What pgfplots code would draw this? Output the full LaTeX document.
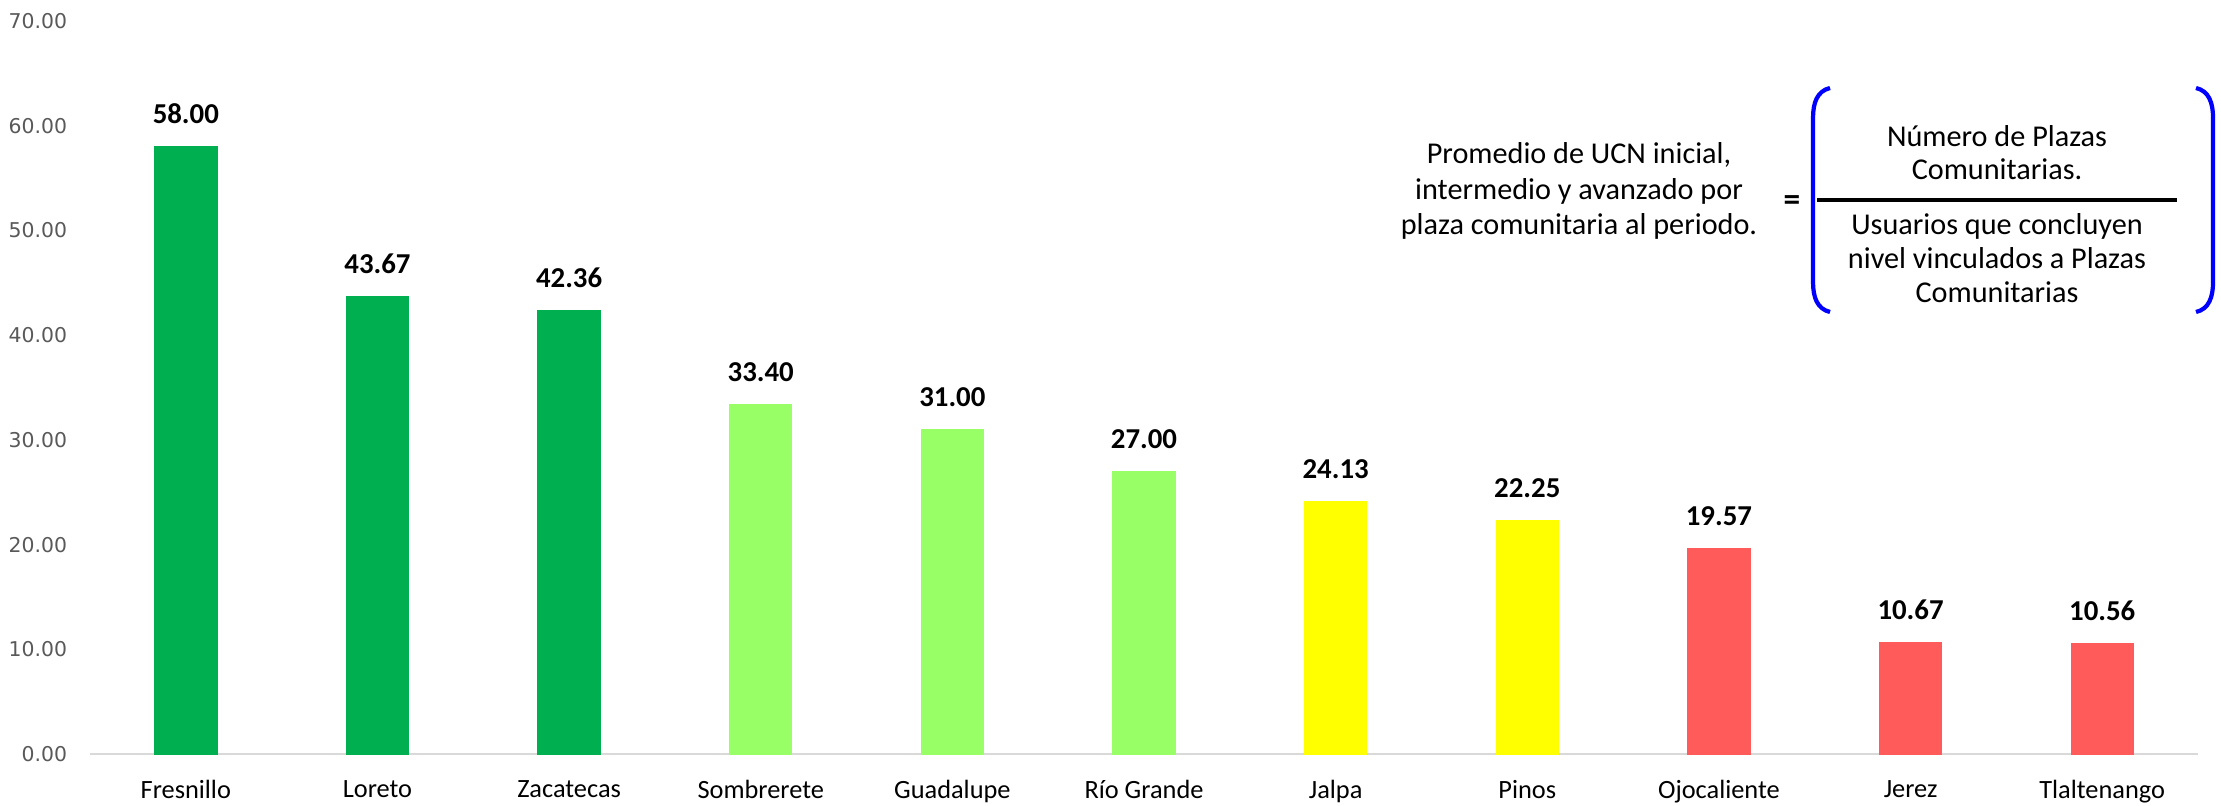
\documentclass[border=0pt]{standalone}
\usepackage{fontspec}
\setmainfont{Carlito}
\newfontfamily\tickfont{DejaVu Sans}
\usepackage{pgfplots}
\pgfplotsset{compat=1.18}
\definecolor{dgreen}{RGB}{0,176,80}
\definecolor{lgreen}{RGB}{153,255,102}
\definecolor{yel}{RGB}{255,255,0}
\definecolor{red1}{RGB}{255,91,91}
\definecolor{tickgray}{RGB}{89,89,89}
\definecolor{axgray}{RGB}{217,217,217}
\begin{document}
\begin{tikzpicture}
\useasboundingbox (0,0) rectangle (22.21cm,8.05cm);
\begin{axis}[
  at={(0.90cm,0.51cm)}, anchor=south west,
  scale only axis, width=21.08cm, height=7.33cm,
  ymin=0, ymax=70, ytick={0,10,...,70},
  xmin=-0.5, xmax=10.5,
  xtick={0,...,10},
  xticklabels={Fresnillo,Loreto,Zacatecas,Sombrerete,Guadalupe,Río Grande,Jalpa,Pinos,Ojocaliente,Jerez,Tlaltenango},
  axis x line=bottom, axis y line=left,
  x axis line style={draw=axgray, line width=0.8pt, -},
  y axis line style={draw=none},
  major tick length=0pt,
  xticklabel style={font=\fontsize{7.5}{9}\selectfont, text=black, yshift=-4pt},
  yticklabel style={font=\tickfont\fontsize{5.8}{7}\selectfont, text=tickgray, xshift=-3pt},
  yticklabel={\pgfmathprintnumber[fixed,fixed zerofill,precision=2,assume math mode=true]{\tick}},
  ybar, bar width=0.62cm, bar shift=0pt,
  nodes near coords={\pgfmathprintnumber[fixed,fixed zerofill,precision=2,assume math mode=true]{\pgfplotspointmeta}},
  every node near coord/.append style={font=\bfseries\fontsize{8.2}{10}\selectfont, text=black, yshift=3pt},
  clip=false,
]
\addplot[fill=dgreen, draw=dgreen] coordinates {(0,58.00) (1,43.67) (2,42.36)};
\addplot[fill=lgreen, draw=lgreen] coordinates {(3,33.40) (4,31.00) (5,27.00)};
\addplot[fill=yel, draw=yel] coordinates {(6,24.13) (7,22.25)};
\addplot[fill=red1, draw=red1] coordinates {(8,19.57) (9,10.67) (10,10.56)};
\end{axis}
\node[align=center, font=\fontsize{8.6}{10.1}\selectfont] at (15.79cm,6.14cm) {Promedio de UCN inicial,\\intermedio y avanzado por\\plaza comunitaria al periodo.};
\node[font=\bfseries\fontsize{9.5}{11}\selectfont] at (17.92cm,6.02cm) {=};
\draw[line width=1.4pt] (18.17cm,6.05cm) -- (21.77cm,6.05cm);
\node[align=center, font=\fontsize{8.6}{9.4}\selectfont] at (19.97cm,6.52cm) {Número de Plazas\\Comunitarias.};
\node[align=center, font=\fontsize{8.6}{9.7}\selectfont] at (19.97cm,5.47cm) {Usuarios que concluyen\\nivel vinculados a Plazas\\Comunitarias};
\draw[blue, line width=1.2pt] (18.30cm,7.17cm) .. controls (18.17cm,7.14cm) and (18.13cm,7.02cm) .. (18.13cm,6.87cm) -- (18.13cm,5.23cm) .. controls (18.13cm,5.08cm) and (18.17cm,4.96cm) .. (18.30cm,4.93cm);
\draw[blue, line width=1.2pt] (21.96cm,7.17cm) .. controls (22.09cm,7.14cm) and (22.13cm,7.02cm) .. (22.13cm,6.87cm) -- (22.13cm,5.23cm) .. controls (22.13cm,5.08cm) and (22.09cm,4.96cm) .. (21.96cm,4.93cm);
\end{tikzpicture}
\end{document}
